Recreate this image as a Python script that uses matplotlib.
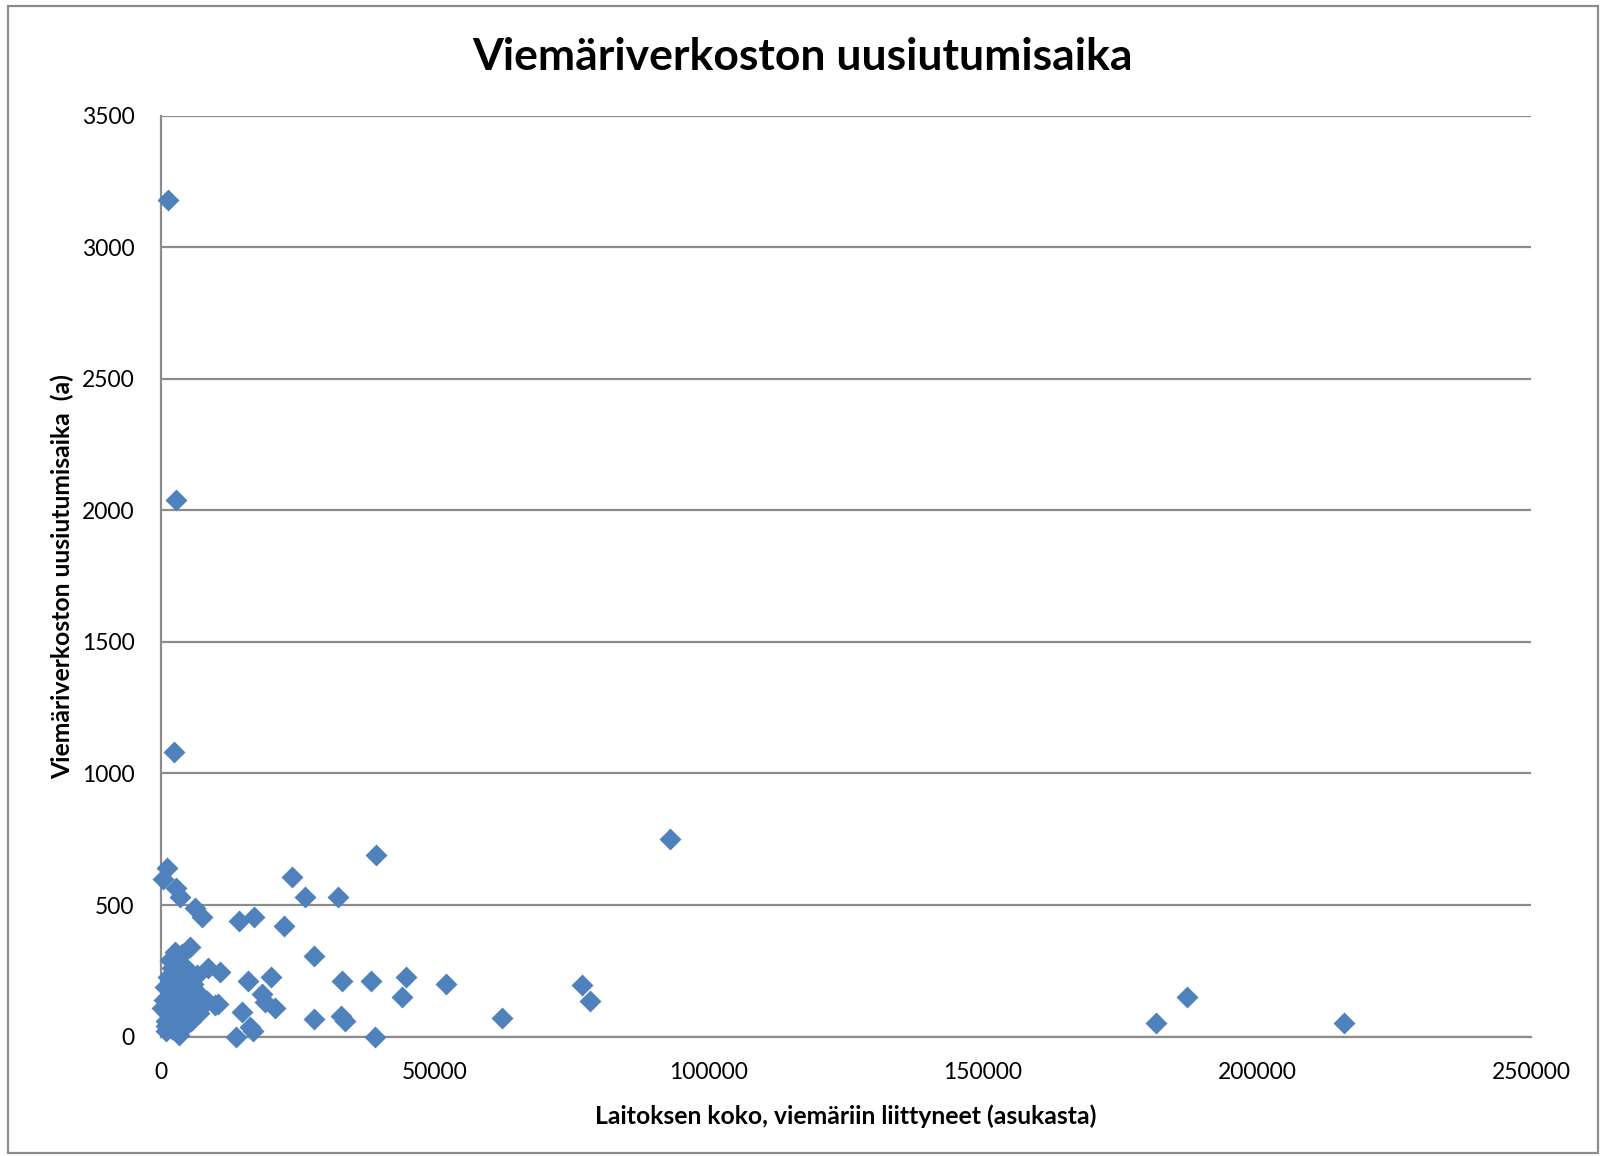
import matplotlib
matplotlib.use("Agg")
import matplotlib.pyplot as plt
from matplotlib.patches import Rectangle

# asukasmaara (x) ja uusiutumisaika vuosina (y)
asukkaat = [
    1300, 2800, 2500, 92900, 39300, 1200, 400, 23900, 2800, 3500,
    26300, 32300, 6200, 7500, 14300, 17000, 22500, 28000,
    5300, 2600, 3900, 1700, 8600, 10800, 6600, 4000, 1300, 16000,
    20200, 33000, 38400, 44800, 52000, 76800, 78300, 44000, 187300, 181600,
    215800, 62300, 28000, 32800, 33600, 39100, 13700, 16800, 18500, 19000,
    20800, 14800, 9900, 8400, 10500, 16300,
    200, 900, 1500, 2200, 3000, 3600, 4200, 5000, 5600, 6200,
    7000, 1000, 2000, 3400, 4400, 5500, 6500, 800, 2600, 4800,
    5800, 1800, 2700, 3800, 6900, 7700, 500, 1200, 4600, 3200,
    2000, 6000, 900, 3000,
]
uusiutumisaika = [
    3180, 2040, 1080, 750, 690, 640, 600, 605, 565, 530,
    530, 530, 490, 455, 440, 455, 420, 305,
    340, 320, 315, 290, 260, 245, 235, 235, 225, 210,
    225, 210, 210, 225, 200, 195, 135, 150, 150, 50,
    50, 70, 65, 80, 58, 0, 0, 20, 160, 130,
    110, 95, 120, 135, 125, 35,
    110, 60, 150, 180, 100, 140, 90, 120, 60, 150,
    90, 20, 30, 5, 40, 80, 110, 190, 200, 175,
    200, 110, 70, 60, 160, 130, 140, 90, 260, 250,
    260, 95, 40, 35,
]

xticks = [0, 50000, 100000, 150000, 200000, 250000]
yticks = [0, 500, 1000, 1500, 2000, 2500, 3000, 3500]

plt.rcParams['font.family'] = ['Lato', 'DejaVu Sans']

fig = plt.figure(figsize=(16.06, 11.56), dpi=100)
ax = fig.add_axes([0.1001, 0.1033, 0.8532, 0.7967])

ax.scatter(asukkaat, uusiutumisaika, marker='D', s=125, color='#4F81BD',
           linewidths=0, zorder=3, clip_on=False)

ax.set_xlim(0, 250000)
ax.set_ylim(0, 3500)
ax.set_xticks(xticks)
ax.set_yticks(yticks)
ax.tick_params(axis='both', length=0, labelsize=16.5)
ax.tick_params(axis='y', pad=19)
ax.tick_params(axis='x', pad=18)
ax.grid(axis='y', color='#8c8c8c', linewidth=1.6)
ax.set_axisbelow(True)
for s in ['top', 'right']:
    ax.spines[s].set_visible(False)
for s in ['left', 'bottom']:
    ax.spines[s].set_color('#8c8c8c')
    ax.spines[s].set_linewidth(1.6)

ax.set_xlabel("Laitoksen koko, viemäriin liittyneet (asukasta)", fontsize=17.8,
              fontweight='bold', labelpad=16)
ax.set_ylabel("Viemäriverkoston uusiutumisaika  (a)", fontsize=17.8,
              fontweight='bold', labelpad=5)
fig.text(0.5, 0.951, "Viemäriverkoston uusiutumisaika", ha='center', va='center',
         fontsize=32, fontweight='bold')

# kaavioalueen reunus
fig.patches.append(Rectangle((0.005, 0.003), 0.99, 0.992, transform=fig.transFigure,
                             fill=False, edgecolor='#8c8c8c', linewidth=1.6))

fig.savefig('out.png', dpi=100)
